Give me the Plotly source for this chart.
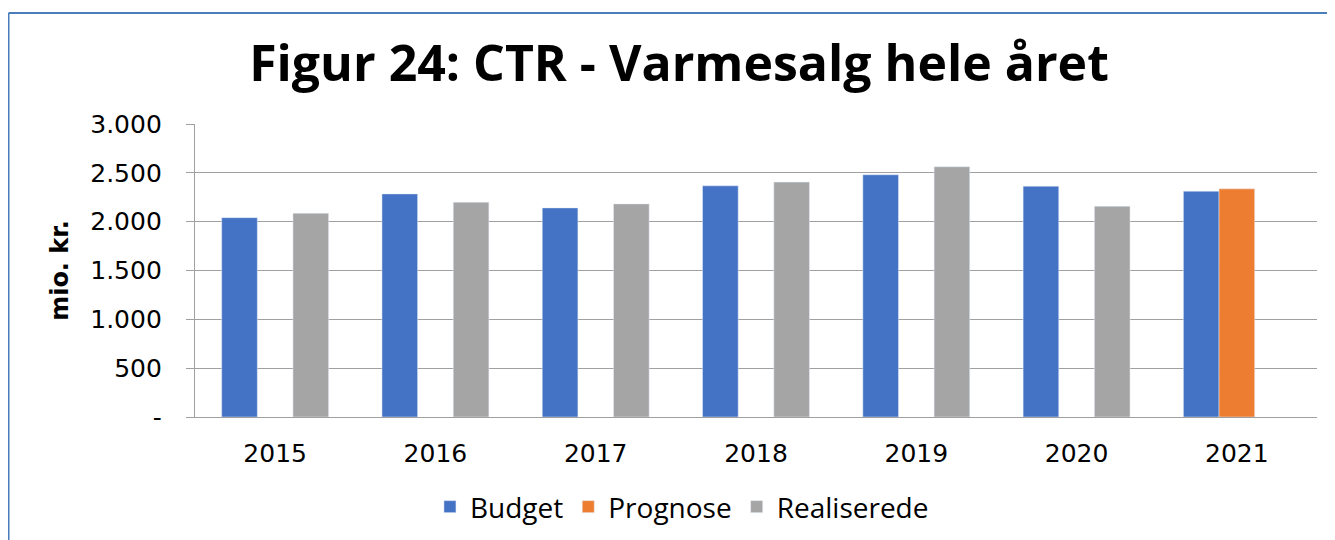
import plotly.graph_objects as go

years = ["2015", "2016", "2017", "2018", "2019", "2020", "2021"]
budget = [2041, 2284, 2141, 2367, 2480, 2363, 2312]
prognose = [None, None, None, None, None, None, 2336]
realiserede = [2086, 2199, 2182, 2405, 2562, 2158, None]

y_tickvals = [0, 500, 1000, 1500, 2000, 2500, 3000]
y_ticktext = ["-", "500", "1.000", "1.500", "2.000", "2.500", "3.000"]

W, H = 1327, 532

fig = go.Figure()
fig.add_trace(go.Bar(name="Budget", x=years, y=budget, marker_color="#4472C4"))
fig.add_trace(go.Bar(name="Prognose", x=years, y=prognose, marker_color="#ED7D31"))
fig.add_trace(go.Bar(name="Realiserede", x=years, y=realiserede, marker_color="#A5A5A5"))

fig.update_layout(
    width=W, height=H,
    paper_bgcolor="white", plot_bgcolor="white",
    margin=dict(l=187, r=18, t=116, b=123, autoexpand=False),
    barmode="group", bargap=0.333, bargroupgap=0,
    title=dict(text="<b>Figur 24: CTR - Varmesalg hele året</b>",
               font=dict(family="Open Sans", size=50, color="black"),
               x=671 / W, xanchor="center", y=1 - 55 / H, yanchor="middle",
               xref="container", yref="container"),
    legend=dict(orientation="h", x=0.434, xanchor="center", y=-0.307, yanchor="middle",
                font=dict(family="Open Sans", size=28, color="black"),
                tracegroupgap=0, traceorder="normal"),
    font=dict(family="DejaVu Sans", color="black"),
)
fig.update_yaxes(range=[0, 3000], tickvals=y_tickvals, ticktext=y_ticktext,
                 showgrid=True, gridcolor="#A0A0A0", gridwidth=1.3,
                 showline=True, linecolor="#A0A0A0", linewidth=1.3,
                 ticks="outside", ticklen=8, tickcolor="#A0A0A0", tickwidth=1.3,
                 ticklabelstandoff=19,
                 tickfont=dict(family="DejaVu Sans", size=25, color="black"),
                 title=dict(text="<b>mio. kr.</b>", font=dict(family="DejaVu Sans", size=24, color="black"),
                            standoff=14),
                 zeroline=False)
fig.update_xaxes(showline=True, linecolor="#A0A0A0", linewidth=1.3, ticks="",
                 tickfont=dict(family="DejaVu Sans", size=25, color="black"),
                 ticklabelstandoff=14)

fig.add_shape(type="line", xref="paper", yref="paper", x0=-0.1662, x1=1.5, y0=1.379, y1=1.379,
              line=dict(color="#4A7EBB", width=2))
fig.add_shape(type="line", xref="paper", yref="paper", x0=-0.1662, x1=-0.1662, y0=-1, y1=1.379,
              line=dict(color="#4A7EBB", width=2))

fig.write_html("out.html")
